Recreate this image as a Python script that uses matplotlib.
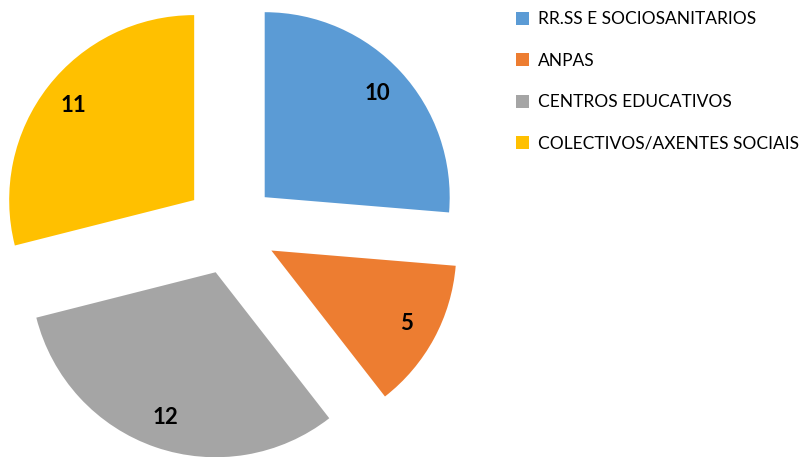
import matplotlib
matplotlib.use("Agg")
import numpy as np
from matplotlib import pyplot as plt

categorias = ["RR.SS E SOCIOSANITARIOS", "ANPAS", "CENTROS EDUCATIVOS",
              "COLECTIVOS/AXENTES SOCIAIS"]
valores = [10, 5, 12, 11]
cores = ["#5B9BD5", "#ED7D31", "#A5A5A5", "#FFC000"]

plt.rcParams["font.family"] = ["Lato", "DejaVu Sans"]

fig = plt.figure(figsize=(8.05, 4.57), dpi=100)
# eixo colocado para que o radio da torta sexa ~185 px
ax = fig.add_axes([-0.0007, -0.006, 0.5745, 1.012])

wedges, _ = ax.pie(
    valores,
    colors=cores,
    startangle=90,
    counterclock=False,
    explode=[0.25] * len(valores),
    radius=1,
)
# etiquetas cos valores dentro de cada porción
for w, v in zip(wedges, valores):
    ang = np.deg2rad((w.theta1 + w.theta2) / 2)
    cx, cy = w.center
    ax.text(cx + 0.83 * np.cos(ang), cy + 0.83 * np.sin(ang), str(v),
            ha="center", va="center", fontsize=16, fontweight="bold")

ax.set_xlim(-1.25, 1.25)
ax.set_ylim(-1.25, 1.25)
ax.axis("off")

fig.legend(wedges, categorias, loc="upper left", bbox_to_anchor=(0.627, 1.0),
           frameon=False, fontsize=12.5, handlelength=0.75, handleheight=0.75,
           handletextpad=0.5, labelspacing=1.47, borderaxespad=0.25)

fig.savefig("out.png", dpi=100)
